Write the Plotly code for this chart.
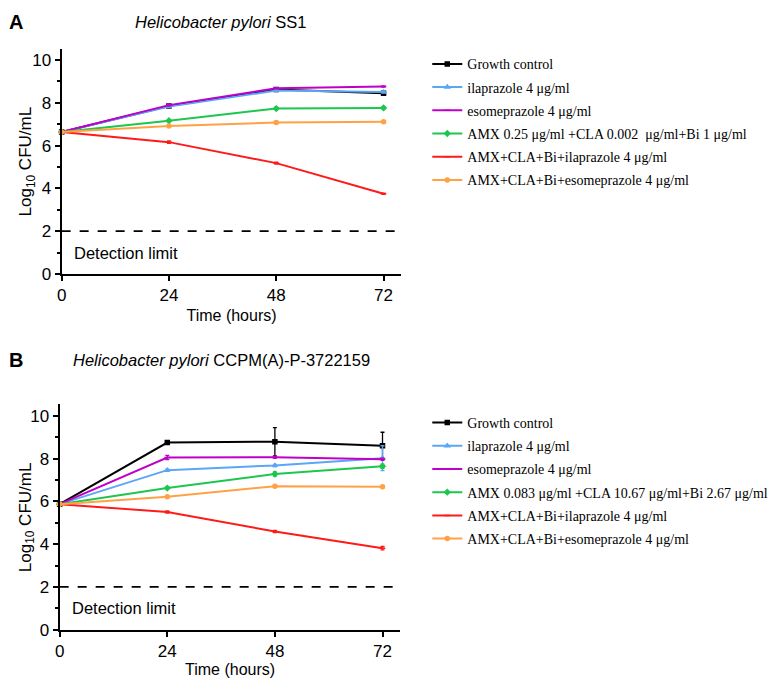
import plotly.graph_objects as go

W, H = 780, 687

time_h = [0, 24, 48, 72]

names_A = [
    "Growth control",
    "ilaprazole 4 μg/ml",
    "esomeprazole 4 μg/ml",
    "AMX 0.25 μg/ml +CLA 0.002  μg/ml+Bi 1 μg/ml",
    "AMX+CLA+Bi+ilaprazole 4 μg/ml",
    "AMX+CLA+Bi+esomeprazole 4 μg/ml",
]
names_B = [
    "Growth control",
    "ilaprazole 4 μg/ml",
    "esomeprazole 4 μg/ml",
    "AMX 0.083 μg/ml +CLA 10.67 μg/ml+Bi 2.67 μg/ml",
    "AMX+CLA+Bi+ilaprazole 4 μg/ml",
    "AMX+CLA+Bi+esomeprazole 4 μg/ml",
]

# Panel A values (log10 CFU/mL)
gc_A = [6.63, 7.85, 8.62, 8.45]
ila_A = [6.63, 7.82, 8.57, 8.50]
eso_A = [6.63, 7.89, 8.68, 8.76]
amx_A = [6.63, 7.16, 7.73, 7.76]
ilacombo_A = [6.63, 6.16, 5.18, 3.75]
esocombo_A = [6.63, 6.91, 7.08, 7.11]
err_A = [
    [0.03, 0.03, 0.03, 0.04],
    [0.03, 0.04, 0.03, 0.03],
    [0.03, 0.04, 0.03, 0.03],
    [0.03, 0.05, 0.05, 0.05],
    [0.03, 0.06, 0.05, 0.03],
    [0.03, 0.04, 0.05, 0.05],
]

# Panel B values (log10 CFU/mL)
gc_B = [5.87, 8.75, 8.79, 8.60]
ila_B = [5.87, 7.46, 7.68, 8.02]
eso_B = [5.87, 8.05, 8.06, 7.97]
amx_B = [5.87, 6.62, 7.28, 7.64]
ilacombo_B = [5.87, 5.50, 4.59, 3.81]
esocombo_B = [5.87, 6.22, 6.71, 6.68]
err_B = [
    [0.03, 0.05, 0.66, 0.63],
    [0.03, 0.05, 0.05, 0.58],
    [0.03, 0.10, 0.05, 0.05],
    [0.03, 0.06, 0.10, 0.10],
    [0.03, 0.05, 0.05, 0.08],
    [0.03, 0.04, 0.04, 0.04],
]

colors = ["#000000", "#5aa6f7", "#c000c8", "#1ec64e", "#ff1a1a", "#ffa245"]
symbols = ["square", "triangle-up", "line-ew-open", "diamond", "line-ew-open", "circle"]

series_A = [gc_A, ila_A, eso_A, amx_A, ilacombo_A, esocombo_A]
series_B = [gc_B, ila_B, eso_B, amx_B, ilacombo_B, esocombo_B]

FONT = "Liberation Sans, Arial, sans-serif"
SERIF = "Liberation Serif, Times New Roman, serif"

fig = go.Figure()


def add_panel(series, errs, names, xa, ya, legend):
    for i, (ys, es, nm) in enumerate(zip(series, errs, names)):
        fig.add_trace(go.Scatter(
            x=time_h, y=ys, name=nm, mode="lines+markers",
            xaxis=xa, yaxis=ya, legend=legend, legendgroup=f"{legend}{i}",
            line=dict(color=colors[i], width=2),
            marker=dict(symbol=symbols[i], size=4, color=colors[i],
                        line=dict(color=colors[i], width=1.5)),
            error_y=dict(type="data", array=es, visible=True,
                         color=colors[i], thickness=1.3, width=2),
            cliponaxis=False,
        ))


add_panel(series_A, err_A, names_A, "x", "y", "legend")
add_panel(series_B, err_B, names_B, "x2", "y2", "legend2")


def px_x(p):
    return p / W


def px_y(p):
    return 1 - p / H


axis_common = dict(
    showline=True, linecolor="black", linewidth=2, ticks="outside",
    tickcolor="black", tickwidth=2, ticklen=5, showgrid=False, zeroline=False,
    tickfont=dict(family=FONT, size=17, color="black"),
)

fig.update_layout(
    width=W, height=H, autosize=False,
    margin=dict(l=0, r=0, t=0, b=0),
    paper_bgcolor="white", plot_bgcolor="white",
    showlegend=True,
    xaxis=dict(domain=[px_x(57), px_x(399)], range=[0, 76], anchor="y",
               tickvals=[0, 24, 48, 72],
               title=dict(text="Time (hours)", standoff=5,
                          font=dict(family=FONT, size=16, color="black")),
               **axis_common),
    yaxis=dict(domain=[px_y(278), px_y(50)], range=[0, 10.5], anchor="x",
               tickvals=[0, 2, 4, 6, 8, 10],
               minor=dict(tickvals=[1, 3, 5, 7, 9], ticks="outside", ticklen=3,
                          tickcolor="black", tickwidth=1.5),
               **axis_common),
    xaxis2=dict(domain=[px_x(55), px_x(398)], range=[0, 76], anchor="y2",
                tickvals=[0, 24, 48, 72],
                title=dict(text="Time (hours)", standoff=2,
                           font=dict(family=FONT, size=16, color="black")),
                **axis_common),
    yaxis2=dict(domain=[px_y(639), px_y(410)], range=[0, 10.55], anchor="x2",
                tickvals=[0, 2, 4, 6, 8, 10],
                minor=dict(tickvals=[1, 3, 5, 7, 9], ticks="outside", ticklen=3,
                           tickcolor="black", tickwidth=1.5),
                **axis_common),
    legend=dict(x=px_x(425), y=px_y(49), xanchor="left", yanchor="top",
                font=dict(family=SERIF, size=14, color="black"),
                tracegroupgap=2, itemwidth=30, bgcolor="rgba(0,0,0,0)"),
    legend2=dict(x=px_x(425), y=px_y(413), xanchor="left", yanchor="top",
                 font=dict(family=SERIF, size=14, color="black"),
                 tracegroupgap=2, itemwidth=30, bgcolor="rgba(0,0,0,0)"),
)

# Y-axis titles
for yc in (164, 525):
    fig.add_annotation(xref="paper", yref="paper", x=px_x(22), y=px_y(yc),
                       xanchor="center", yanchor="middle", textangle=-90,
                       text="Log<sub>10</sub> CFU/mL", showarrow=False,
                       font=dict(family=FONT, size=17, color="black"))

# Detection limit dashed lines
for xr, yr in [("x", "y"), ("x2", "y2")]:
    fig.add_shape(type="line", xref=xr, yref=yr, x0=0, x1=76, y0=2, y1=2,
                  line=dict(color="black", width=1.8, dash="dash"))
    fig.add_annotation(xref=xr, yref=yr, x=2.4, y=1.0, xanchor="left",
                       yanchor="middle",
                       text="Detection limit", showarrow=False,
                       font=dict(family=FONT, size=16.5, color="black"))

# Panel titles and letters
fig.add_annotation(xref="paper", yref="paper", x=px_x(217), y=px_y(22),
                   xanchor="center", yanchor="middle",
                   text="<i>Helicobacter pylori</i> SS1", showarrow=False,
                   font=dict(family=FONT, size=16.5, color="black"))
fig.add_annotation(xref="paper", yref="paper", x=px_x(218), y=px_y(365),
                   xanchor="center", yanchor="middle",
                   text="<i>Helicobacter pylori</i> CCPM(A)-P-3722159", showarrow=False,
                   font=dict(family=FONT, size=16.5, color="black"))
fig.add_annotation(xref="paper", yref="paper", x=px_x(11), y=px_y(22),
                   xanchor="center", yanchor="middle",
                   text="<b>A</b>", showarrow=False,
                   font=dict(family=FONT, size=20, color="black"))
fig.add_annotation(xref="paper", yref="paper", x=px_x(11), y=px_y(365),
                   xanchor="center", yanchor="middle",
                   text="<b>B</b>", showarrow=False,
                   font=dict(family=FONT, size=20, color="black"))

fig.write_html("out.html")
